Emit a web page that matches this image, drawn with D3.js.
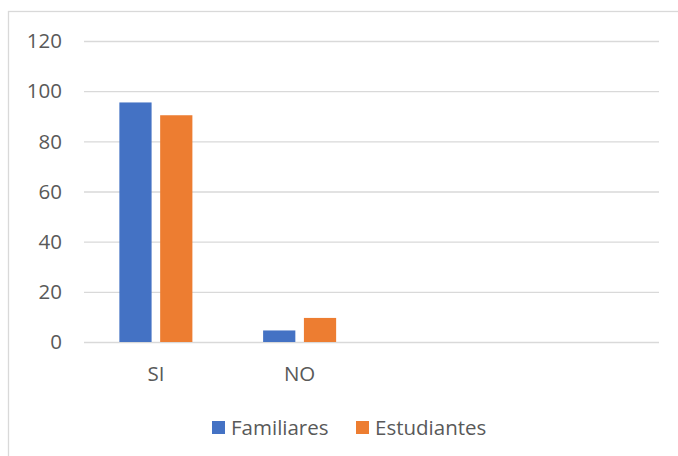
<!DOCTYPE html>
<html>
<head>
<meta charset="utf-8">
<script src="https://cdn.jsdelivr.net/npm/d3@7"></script>
<style>
  html, body { margin: 0; padding: 0; background: #fff; }
  text { font-family: "Open Sans", sans-serif; fill: #595959; }
</style>
</head>
<body>
<div id="chart"></div>
<script>
// datos
const categorias = ["SI", "NO", "", " "];
const series = ["Familiares", "Estudiantes"];
const familiares = [95.5, 4.6, null, null];
const estudiantes = [90.4, 9.6, null, null];
const yTicks = [0, 20, 40, 60, 80, 100, 120];
const colores = ["#4472c4", "#ed7d31"];

const W = 678, H = 456;
const plot = { left: 84, right: 659, top: 41, bottom: 342 };
const fs = "20.5px";

const svg = d3.select("#chart").append("svg")
    .attr("width", W)
    .attr("height", H);

// marco del grafico
svg.append("rect")
    .attr("x", 8.5).attr("y", 11.5)
    .attr("width", 700).attr("height", 460)
    .attr("fill", "none")
    .attr("stroke", "#d9d9d9")
    .attr("stroke-width", 1.3);

const x0 = d3.scaleBand()
    .domain(categorias)
    .range([plot.left, plot.right])
    .paddingInner(0.492)
    .paddingOuter(0.246);

const x1 = d3.scaleBand()
    .domain(series)
    .range([0, x0.bandwidth()])
    .paddingInner(0.21);

const y = d3.scaleLinear()
    .domain([0, 120])
    .range([plot.bottom, plot.top]);

// lineas de cuadricula
svg.append("g")
    .attr("transform", `translate(${plot.left},0)`)
    .call(d3.axisLeft(y).tickValues(yTicks).tickSize(-(plot.right - plot.left)).tickFormat(""))
    .call(g => g.select(".domain").remove())
    .call(g => g.selectAll("line").attr("stroke", "#d9d9d9").attr("stroke-width", 1.3));

// etiquetas eje y
svg.selectAll(".ylab")
    .data(yTicks)
    .enter()
    .append("text")
    .attr("class", "ylab")
    .attr("x", 62)
    .attr("y", d => y(d))
    .attr("dy", "0.35em")
    .attr("text-anchor", "end")
    .style("font-size", fs)
    .text(d => d);

// barras
const filas = categorias.map((c, i) => ({ cat: c, vals: [familiares[i], estudiantes[i]] }));

const grupos = svg.selectAll(".grupo")
    .data(filas)
    .enter()
    .append("g")
    .attr("class", "grupo")
    .attr("transform", d => `translate(${x0(d.cat)},0)`);

grupos.selectAll("rect")
    .data(d => d.vals.map((v, j) => ({ serie: series[j], v, j })).filter(d => d.v !== null))
    .enter()
    .append("rect")
    .attr("x", d => x1(d.serie))
    .attr("y", d => y(d.v))
    .attr("width", x1.bandwidth())
    .attr("height", d => y(0) - y(d.v))
    .attr("fill", d => colores[d.j]);

// etiquetas eje x
svg.selectAll(".xlab")
    .data(categorias)
    .enter()
    .append("text")
    .attr("class", "xlab")
    .attr("x", d => x0(d) + x0.bandwidth() / 2)
    .attr("y", 374)
    .attr("dy", "0.35em")
    .attr("text-anchor", "middle")
    .style("font-size", fs)
    .text(d => d.trim());

// leyenda
const legX = [212, 356];
const leyenda = svg.selectAll(".leg")
    .data(series)
    .enter()
    .append("g")
    .attr("class", "leg")
    .attr("transform", (d, i) => `translate(${legX[i]},421)`);

leyenda.append("rect")
    .attr("width", 13).attr("height", 13)
    .attr("fill", (d, i) => colores[i]);

leyenda.append("text")
    .attr("x", 19)
    .attr("y", 6.5)
    .attr("dy", "0.35em")
    .style("font-size", fs)
    .text(d => d);
</script>
</body>
</html>
